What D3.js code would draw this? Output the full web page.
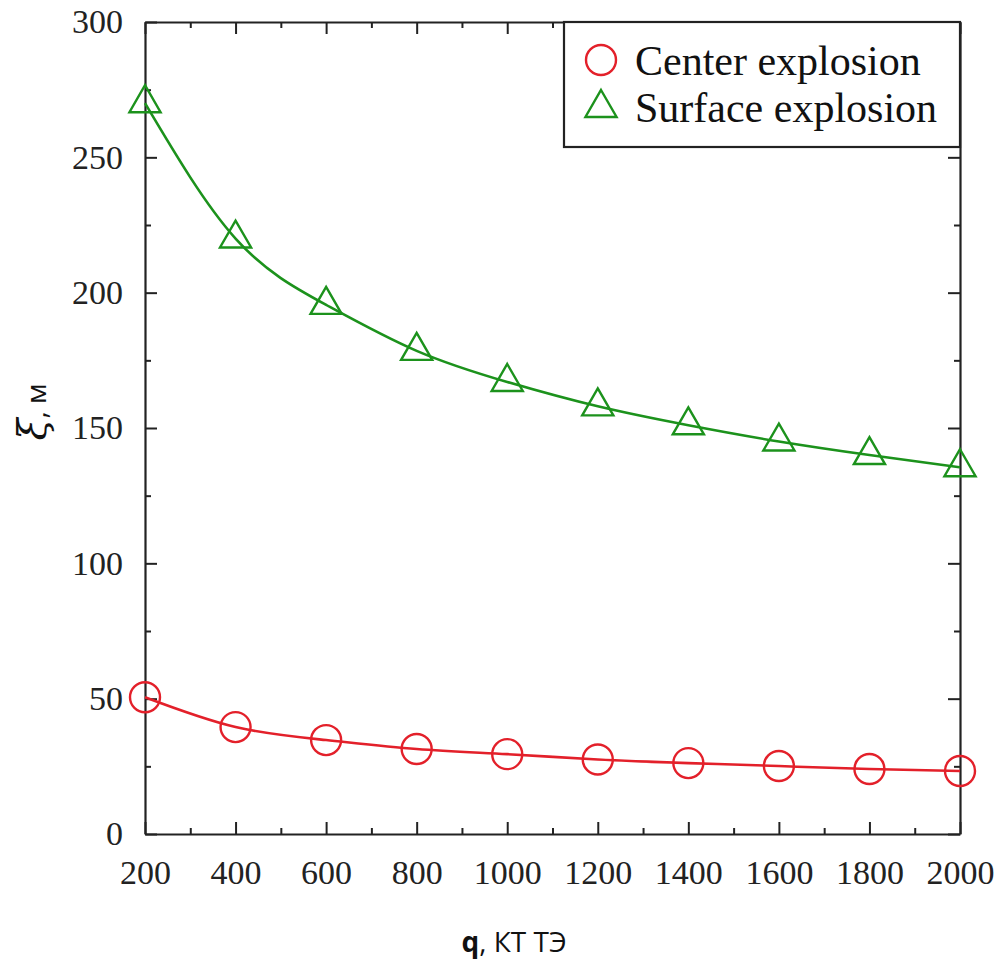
<!DOCTYPE html>
<html>
<head>
<meta charset="utf-8">
<script src="https://cdn.jsdelivr.net/npm/d3@7"></script>
<style>
  body { margin: 0; background: #fff; }
  .tick-label { font-family: "Liberation Serif", "Times New Roman", serif; font-size: 34px; fill: #222; }
  .legend-label { font-family: "Liberation Serif", "Times New Roman", serif; font-size: 42px; fill: #111; }
  .axis-title { font-family: "Open Sans", "Noto Sans", sans-serif; font-size: 28px; fill: #111; }
</style>
</head>
<body>
<svg id="chart"></svg>
<script>
// Data
const charges = [200, 400, 600, 800, 1000, 1200, 1400, 1600, 1800, 2000];
const centerValues = [50.5, 39.5, 34.7, 31.4, 29.5, 27.5, 26.2, 25.1, 24.0, 23.3];
const surfaceValues = [270, 220, 195.5, 178.5, 167, 158, 151, 145, 140, 135.5];
const xMajorTicks = [200, 400, 600, 800, 1000, 1200, 1400, 1600, 1800, 2000];
const xMinorTicks = [300, 500, 700, 900, 1100, 1300, 1500, 1700, 1900];
const yMajorTicks = [0, 50, 100, 150, 200, 250, 300];
const yMinorTicks = [25, 75, 125, 175, 225, 275];
const seriesNames = ['Center explosion', 'Surface explosion'];

const red = '#e3202a';
const green = '#1c921c';

const width = 998, height = 964;
const margin = { top: 22, right: 38, bottom: 130, left: 145 };
const innerW = width - margin.left - margin.right;
const innerH = height - margin.top - margin.bottom;

const svg = d3.select('#chart')
  .attr('width', width)
  .attr('height', height);

const g = svg.append('g')
  .attr('transform', `translate(${margin.left},${margin.top})`);

const x = d3.scaleLinear().domain([200, 2000]).range([0, innerW]);
const y = d3.scaleLinear().domain([0, 300]).range([innerH, 0]);

// Axes on all four sides, ticks pointing inward
function styleAxis(sel) {
  sel.selectAll('path.domain').attr('stroke', '#222').attr('stroke-width', 2.2);
  sel.selectAll('.tick line').attr('stroke', '#222').attr('stroke-width', 2);
}

const bottomMajor = g.append('g')
  .attr('transform', `translate(0,${innerH})`)
  .call(d3.axisBottom(x).tickValues(xMajorTicks).tickSizeInner(-12).tickSizeOuter(0).tickPadding(26).tickFormat(d3.format('d')));
bottomMajor.selectAll('.tick text').attr('class', 'tick-label').attr('font-size', null).attr('font-family', null);
styleAxis(bottomMajor);

const bottomMinor = g.append('g')
  .attr('transform', `translate(0,${innerH})`)
  .call(d3.axisBottom(x).tickValues(xMinorTicks).tickSizeInner(-6).tickSizeOuter(0).tickFormat(''));
bottomMinor.select('path.domain').remove();
styleAxis(bottomMinor);

const topMajor = g.append('g')
  .call(d3.axisTop(x).tickValues(xMajorTicks).tickSizeInner(-12).tickSizeOuter(0).tickFormat(''));
styleAxis(topMajor);
const topMinor = g.append('g')
  .call(d3.axisTop(x).tickValues(xMinorTicks).tickSizeInner(-6).tickSizeOuter(0).tickFormat(''));
topMinor.select('path.domain').remove();
styleAxis(topMinor);

const leftMajor = g.append('g')
  .call(d3.axisLeft(y).tickValues(yMajorTicks).tickSizeInner(-12).tickSizeOuter(0).tickPadding(22));
leftMajor.selectAll('.tick text').attr('class', 'tick-label').attr('font-size', null).attr('font-family', null);
styleAxis(leftMajor);
const leftMinor = g.append('g')
  .call(d3.axisLeft(y).tickValues(yMinorTicks).tickSizeInner(-6).tickSizeOuter(0).tickFormat(''));
leftMinor.select('path.domain').remove();
styleAxis(leftMinor);

const rightMajor = g.append('g')
  .attr('transform', `translate(${innerW},0)`)
  .call(d3.axisRight(y).tickValues(yMajorTicks).tickSizeInner(-12).tickSizeOuter(0).tickFormat(''));
styleAxis(rightMajor);
const rightMinor = g.append('g')
  .attr('transform', `translate(${innerW},0)`)
  .call(d3.axisRight(y).tickValues(yMinorTicks).tickSizeInner(-6).tickSizeOuter(0).tickFormat(''));
rightMinor.select('path.domain').remove();
styleAxis(rightMinor);

// Lines
const line = d3.line()
  .x(d => x(d[0]))
  .y(d => y(d[1]))
  .curve(d3.curveNatural);

const centerData = charges.map((c, i) => [c, centerValues[i]]);
const surfaceData = charges.map((c, i) => [c, surfaceValues[i]]);

g.append('path')
  .datum(centerData)
  .attr('fill', 'none')
  .attr('stroke', red)
  .attr('stroke-width', 2.6)
  .attr('d', line);

g.append('path')
  .datum(surfaceData)
  .attr('fill', 'none')
  .attr('stroke', green)
  .attr('stroke-width', 2.6)
  .attr('d', line);

// Markers
const triangle = d3.symbol().type(d3.symbolTriangle).size(420);

g.selectAll('.center-point')
  .data(centerData)
  .enter()
  .append('circle')
  .attr('class', 'center-point')
  .attr('cx', d => x(d[0]))
  .attr('cy', d => y(d[1]))
  .attr('r', 15)
  .attr('fill', 'none')
  .attr('stroke', red)
  .attr('stroke-width', 2.4);

g.selectAll('.surface-point')
  .data(surfaceData)
  .enter()
  .append('path')
  .attr('class', 'surface-point')
  .attr('transform', d => `translate(${x(d[0])},${y(d[1])})`)
  .attr('d', triangle)
  .attr('fill', 'none')
  .attr('stroke', green)
  .attr('stroke-width', 2.4);

// Legend
const legend = g.append('g')
  .attr('transform', `translate(${innerW - 396},0)`);

legend.append('rect')
  .attr('width', 396)
  .attr('height', 125)
  .attr('fill', '#fff')
  .attr('stroke', '#222')
  .attr('stroke-width', 2.2);

legend.append('circle')
  .attr('cx', 37)
  .attr('cy', 38)
  .attr('r', 15)
  .attr('fill', 'none')
  .attr('stroke', red)
  .attr('stroke-width', 2.4);

legend.append('path')
  .attr('transform', 'translate(37,86)')
  .attr('d', triangle)
  .attr('fill', 'none')
  .attr('stroke', green)
  .attr('stroke-width', 2.4);

legend.selectAll('.legend-label')
  .data(seriesNames)
  .enter()
  .append('text')
  .attr('class', 'legend-label')
  .attr('x', 71)
  .attr('y', (d, i) => 53 + i * 47)
  .text(d => d);

// Axis titles
svg.append('text')
  .attr('class', 'axis-title')
  .attr('text-anchor', 'middle')
  .attr('x', 514)
  .attr('y', 952)
  .html('<tspan font-weight="bold">q</tspan>, КТ ТЭ');

svg.append('text')
  .attr('class', 'axis-title')
  .attr('text-anchor', 'middle')
  .attr('transform', 'translate(46,412) rotate(-90)')
  .html('<tspan font-style="italic" font-family="DejaVu Serif" font-size="40">ξ</tspan>, м');
</script>
</body>
</html>
